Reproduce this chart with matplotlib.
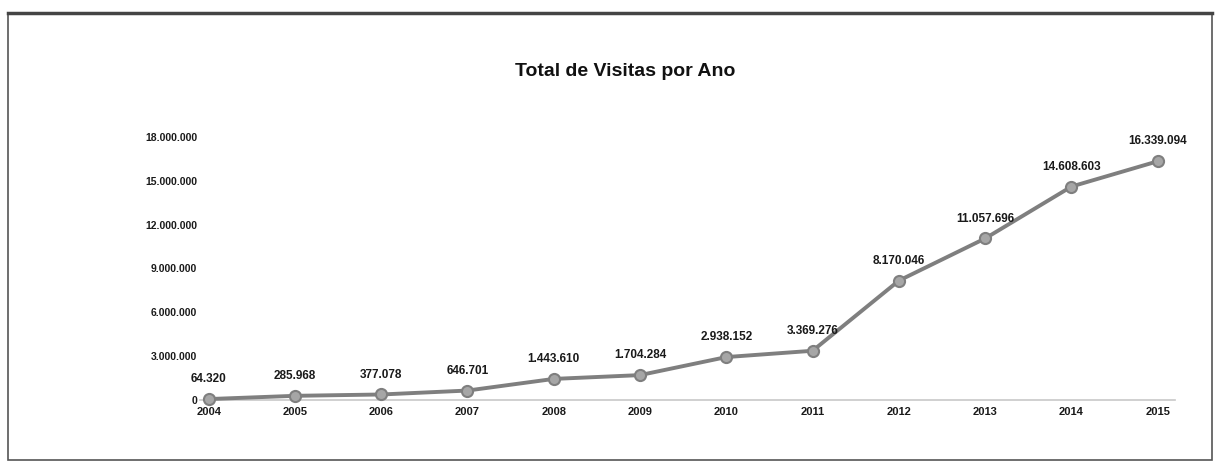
import matplotlib.pyplot as plt
from matplotlib.patches import Rectangle
from matplotlib.ticker import FuncFormatter

plt.rcParams['font.family'] = ['Liberation Sans', 'DejaVu Sans']

anos = [2004, 2005, 2006, 2007, 2008, 2009, 2010, 2011, 2012, 2013, 2014, 2015]
visitas = [64320, 285968, 377078, 646701, 1443610, 1704284, 2938152,
           3369276, 8170046, 11057696, 14608603, 16339094]
y_ticks = [0, 3000000, 6000000, 9000000, 12000000, 15000000, 18000000]


def fmt_pt(v):
    # separador de milhar com ponto
    return f"{int(v):,}".replace(",", ".")


fig = plt.figure(figsize=(12.18, 4.63), dpi=100)
ax = fig.add_axes([200 / 1218, 1 - 400 / 463, 975 / 1218, 263 / 463])

ax.plot(anos, visitas, color='#7f7f7f', linewidth=2.8, marker='o',
        markersize=8, markerfacecolor='#a6a6a6', markeredgecolor='#7f7f7f',
        markeredgewidth=1.5, zorder=3, clip_on=False)

for ano, v in zip(anos, visitas):
    ax.annotate(fmt_pt(v), (ano, v), xytext=(0, 10), textcoords='offset points',
                ha='center', va='bottom', fontsize=8.5, fontweight='bold',
                color='#1a1a1a')

ax.set_xlim(2003.9, 2015.2)
ax.set_ylim(0, 18000000)
ax.set_xticks(anos)
ax.set_yticks(y_ticks)
ax.yaxis.set_major_formatter(FuncFormatter(lambda v, p: fmt_pt(v)))

for s in ['top', 'right', 'left']:
    ax.spines[s].set_visible(False)
ax.spines['bottom'].set_color('#c8c8c8')
ax.spines['bottom'].set_linewidth(1.2)
ax.tick_params(axis='x', length=0, pad=5, labelsize=8, colors='#1a1a1a')
ax.tick_params(axis='y', length=0, pad=2, labelsize=7.5, colors='#1a1a1a')
for lbl in ax.get_yticklabels() + ax.get_xticklabels():
    lbl.set_fontweight('bold')

fig.text(625 / 1218, 1 - 72 / 463, 'Total de Visitas por Ano', ha='center',
         va='center', fontsize=14, fontweight='bold', color='#111111')

# moldura do gráfico
fig.patches.append(Rectangle((8 / 1218, 3 / 463), 1204 / 1218, 447 / 463,
                             transform=fig.transFigure, fill=False,
                             edgecolor='#555555', linewidth=1.2))
fig.lines.append(plt.Line2D([8 / 1218, 1212 / 1218], [450 / 463, 450 / 463],
                            transform=fig.transFigure, color='#444444',
                            linewidth=2.5))

fig.savefig('out.png', dpi=100)
